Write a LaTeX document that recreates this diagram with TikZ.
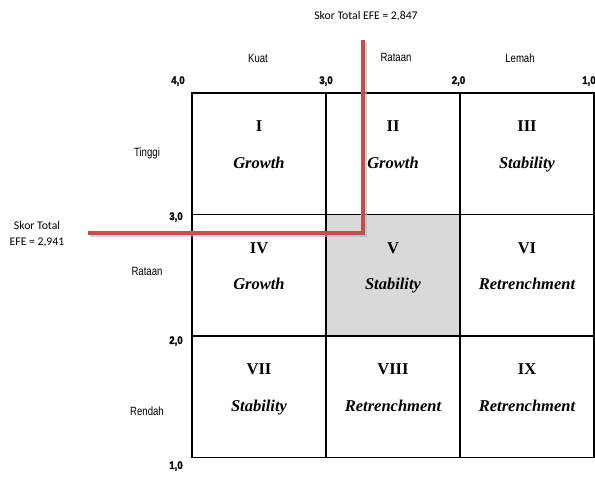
\documentclass[tikz,border=0pt]{standalone}
\usepackage{fontspec}
\setmainfont{Liberation Serif}
\newfontfamily\axisfont{Liberation Sans}[FakeStretch=0.8]
\newfontfamily\tickfont{Liberation Sans}[FakeStretch=0.88, BoldFeatures={FakeBold=1.5}]
\newfontfamily\scorefont{Carlito}
\usetikzlibrary{positioning}
\definecolor{efered}{HTML}{C0504D}
\definecolor{cellgray}{HTML}{D9D9D9}
\tikzstyle{cell} = [draw, line width=1.3pt, minimum width=134pt, minimum height=121.5pt, inner sep=0pt, outer sep=0pt]
\tikzstyle{shaded} = [cell, fill=cellgray]
\tikzstyle{numeral} = [font=\fontsize{16.5}{18}\selectfont\bfseries]
\tikzstyle{strategy} = [font=\fontsize{16.5}{18}\selectfont\bfseries\itshape, text height=11.5pt, text depth=4pt]
\tikzstyle{axis} = [font=\axisfont\fontsize{12}{14}\selectfont, inner sep=0pt]
\tikzstyle{tick} = [font=\tickfont\bfseries\fontsize{11}{12}\selectfont, inner sep=0pt]
\tikzstyle{score} = [font=\scorefont\fontsize{11.7}{16}\selectfont, inner sep=0pt, align=center]
\tikzstyle{efe line} = [line width=4pt, efered]
\tikzstyle{efe shadow} = [line width=4pt, black!30, opacity=0.6]

\begin{document}
\begin{tikzpicture}[x=1pt, y=-1pt]
    \useasboundingbox (0,0) rectangle (595,479);

    % Matrix cells.
    \node (cell 1) [cell] at (259,153.75) {};
    \node (cell 2) [cell, right=0pt of cell 1] {};
    \node (cell 3) [cell, right=0pt of cell 2] {};
    \node (cell 4) [cell, below=0pt of cell 1] {};
    \node (cell 5) [shaded, right=0pt of cell 4] {};
    \node (cell 6) [cell, right=0pt of cell 5] {};
    \node (cell 7) [cell, below=0pt of cell 4] {};
    \node (cell 8) [cell, right=0pt of cell 7] {};
    \node (cell 9) [cell, right=0pt of cell 8] {};

    \foreach \i/\n/\s in {1/I/Growth, 2/II/Growth, 3/III/Stability,
        4/IV/Growth, 5/V/Stability, 6/VI/Retrenchment,
        7/VII/Stability, 8/VIII/Retrenchment, 9/IX/Retrenchment} {%
        \node (numeral \i) [numeral] at ([yshift=27.5pt]cell \i.center) {\n};
        \node (strategy \i) [strategy] at ([yshift=-10.5pt]cell \i.center) {\s};
    }

    % Axis labels.
    \node (col strong) [axis] at (258,58) {Kuat};
    \node (col average) [axis] at (396,57) {Rataan};
    \node (col weak) [axis] at (520,58) {Lemah};
    \node (row high) [axis] at (147,153) {Tinggi};
    \node (row average) [axis] at (147,271) {Rataan};
    \node (row low) [axis] at (147,411) {Rendah};

    \foreach \x/\t in {178/{4,0}, 326/{3,0}, 458.5/{2,0}, 589/{1,0}}
        \node [tick] at (\x,81) {\t};
    \foreach \y/\t in {217/{3,0}, 341/{2,0}, 466/{1,0}}
        \node [tick] at (176,\y) {\t};

    % Scores.
    \node (efe score) [score] at (366,16) {Skor Total EFE = 2,847};
    \node (ife score) [score] at (37,234) {Skor Total\\EFE = 2,941};

    \coordinate (efe top) at (363,40);
    \coordinate (efe corner) at (363,233);
    \coordinate (ife start) at (88,233);

    % Lines.
    \draw [efe shadow] ([xshift=1.5pt, yshift=-1.5pt]ife start) -- ([xshift=1.5pt, yshift=-1.5pt]efe corner) -- ([xshift=1.5pt, yshift=-1.5pt]efe top);
    \draw [efe line] (ife start) -- (efe corner) -- (efe top);
\end{tikzpicture}
\end{document}
